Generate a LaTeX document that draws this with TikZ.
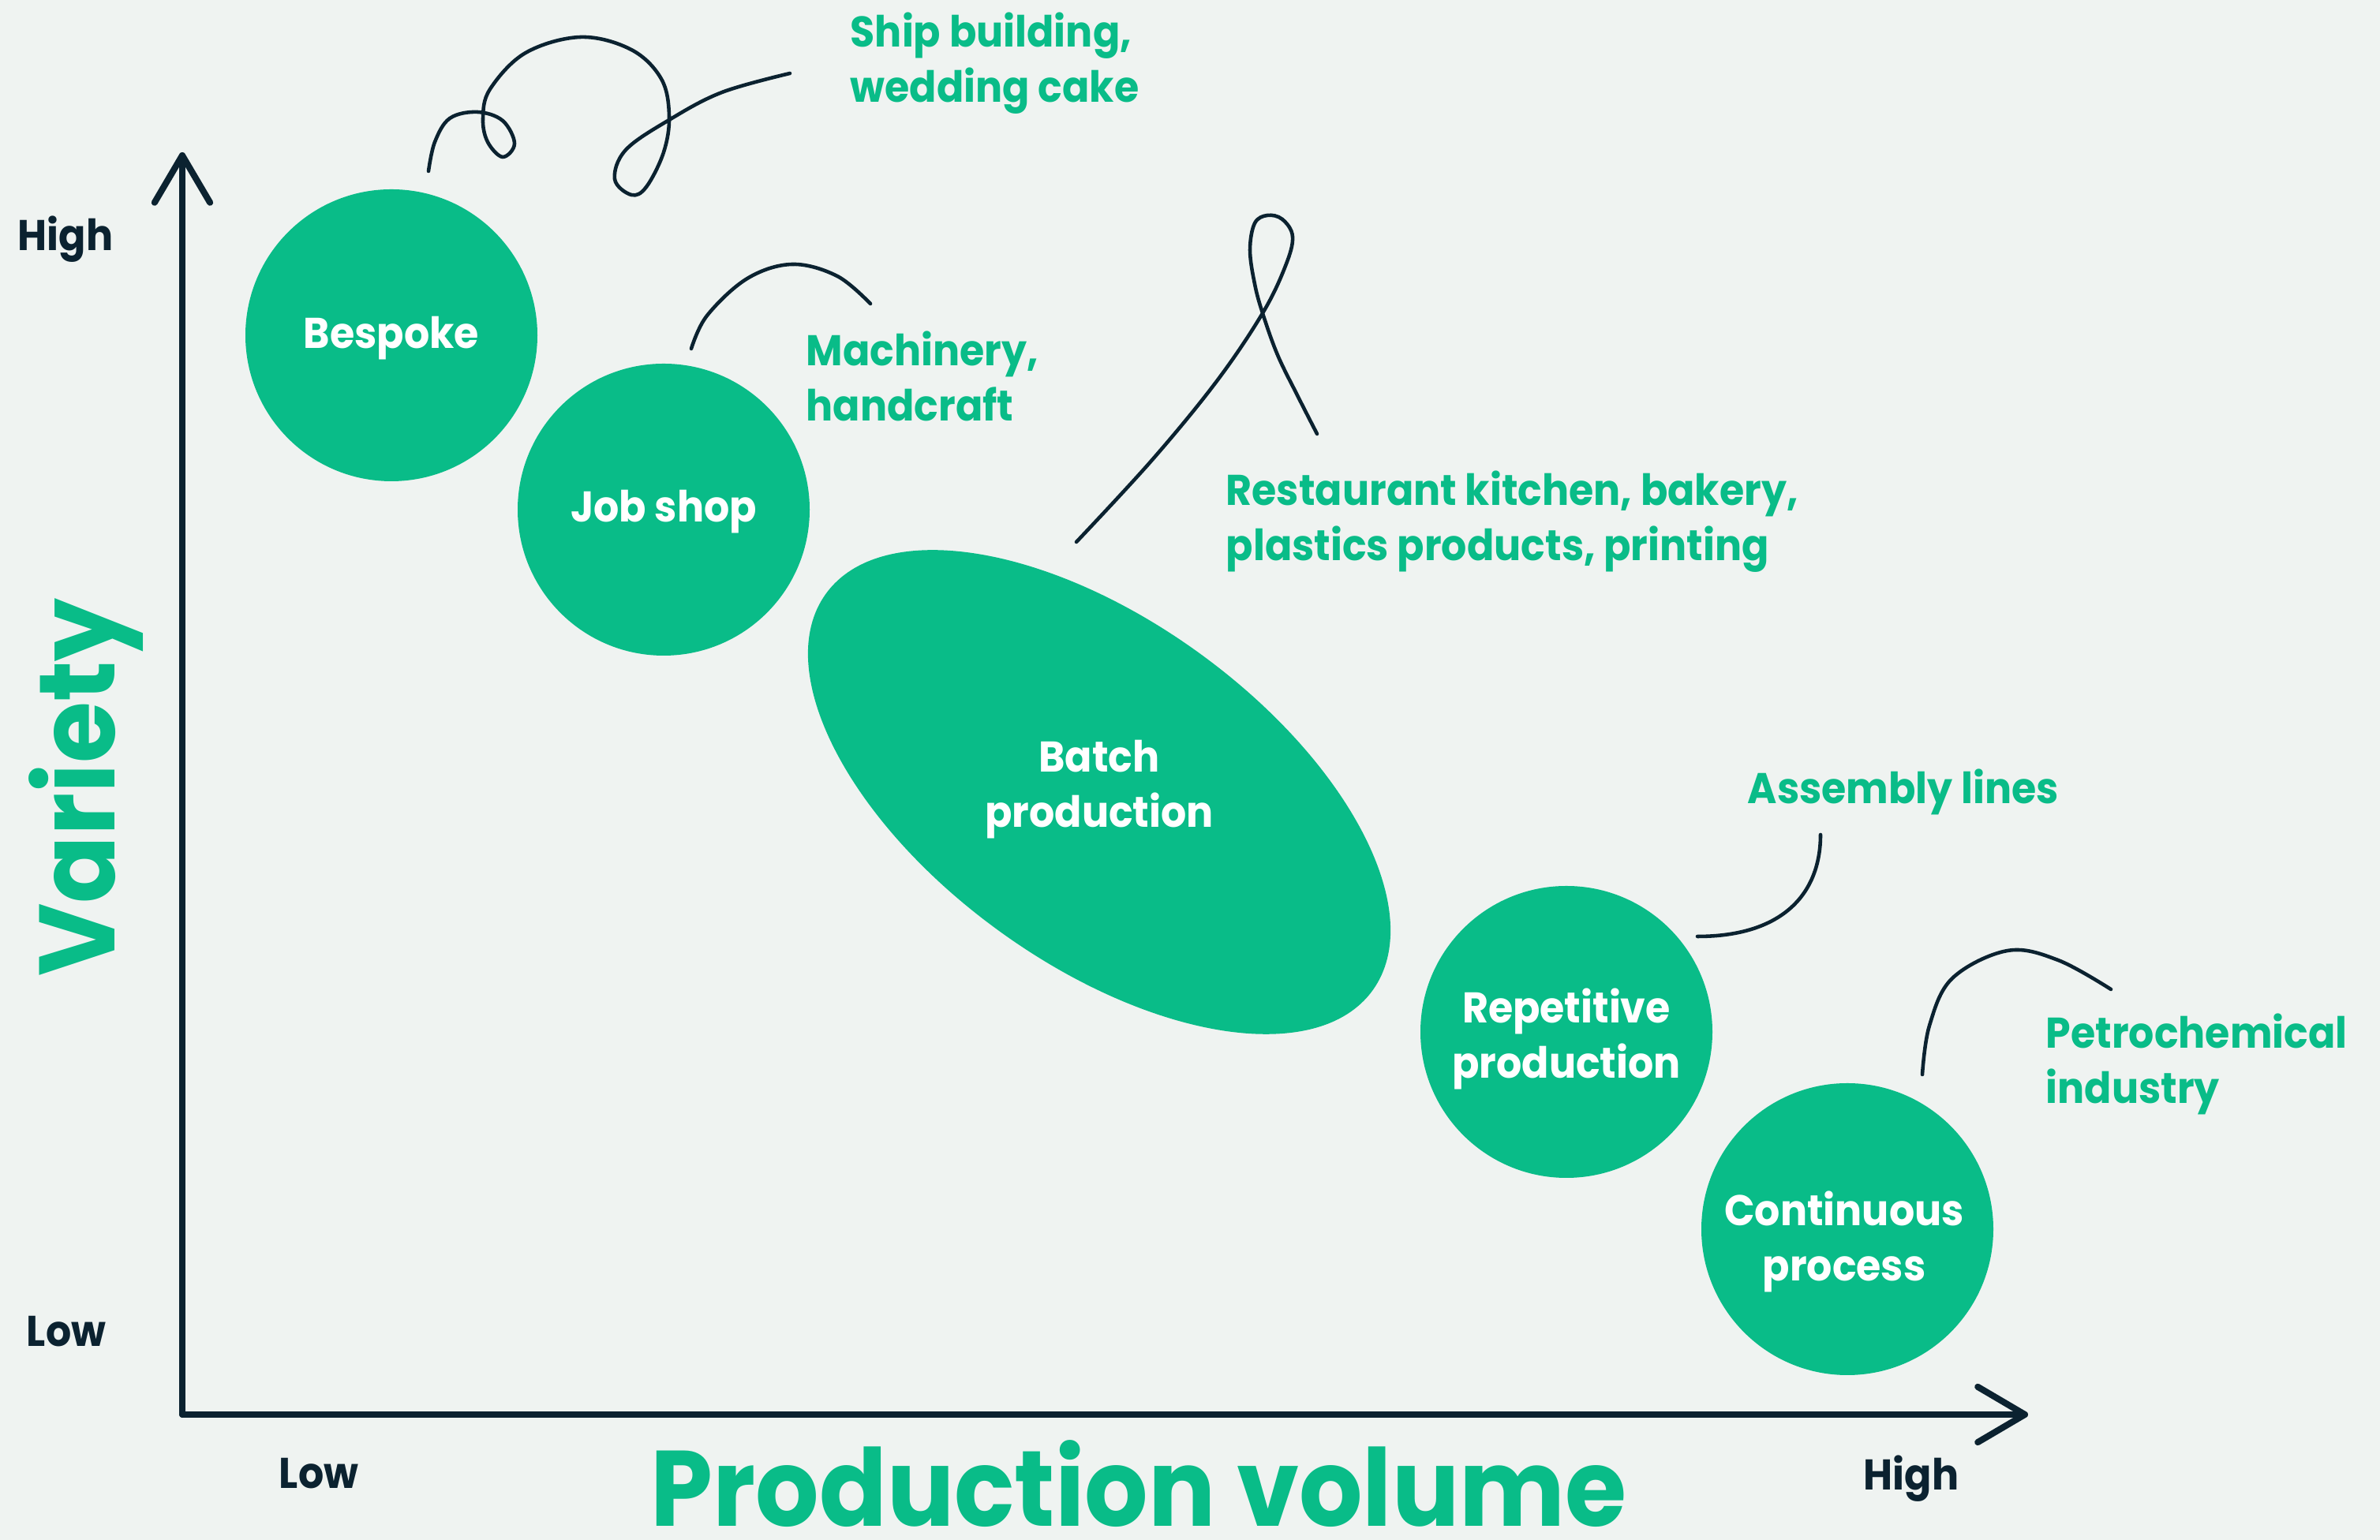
\documentclass[tikz,border=0pt]{standalone}
\usepackage{fontspec}
\setmainfont{Poppins}[FakeStretch=0.93]
\usepackage{tikz}
\usetikzlibrary{shapes.geometric,arrows.meta,positioning}
\definecolor{jade}{RGB}{9,188,136}
\definecolor{gunmetal}{RGB}{11,34,48}
\definecolor{mistgrey}{RGB}{239,243,241}

\begin{document}
\begin{tikzpicture}[
    blob/.style={fill=jade, circle, minimum size=3.7cm, inner sep=0pt},
    inside/.style={text=white, align=center, inner sep=0pt, font=\bfseries\fontsize{15.5}{19.9}\selectfont},
    tag/.style={text=jade, align=left, inner sep=0pt, anchor=west, font=\bfseries\fontsize{15.5}{19.9}\selectfont},
    tick/.style={text=gunmetal, inner sep=0pt, anchor=base, font=\bfseries\fontsize{15.5}{19.9}\selectfont},
    title/.style={text=jade, inner sep=0pt, anchor=base, font=\bfseries\fontsize{38.7}{40}\selectfont},
    squiggle/.style={gunmetal, line width=1.3pt, line cap=round},
    axis/.style={gunmetal, line width=2.3pt, line cap=round, line join=round, -{Straight Barb[length=17pt,width=20pt,round]}}
  ]
  \useasboundingbox (0,0) rectangle (30.16,19.52);
  \fill[mistgrey] (0,0) rectangle (30.16,19.52);

  % axes
  \coordinate (o) at (2.31,1.59);
  \coordinate (ytop) at (2.31,17.59);
  \coordinate (xend) at (25.70,1.59);
  \draw[axis] (o) -- (ytop);
  \draw[axis] (o) -- (xend);

  \node[tick] (yhigh) at (0.83,16.34) {High};
  \node[tick] (ylow) at (0.84,2.45) {Low};
  \node[tick] (xlow) at (4.04,0.65) {Low};
  \node[tick] (xhigh) at (24.22,0.63) {High};
  \node[title] (xname) at (14.43,0.17) {Production volume};
  \node[title, rotate=90] (yname) at (1.45,9.54) {Variety};

  % process types
  \node[blob] (c1) at (4.96,15.27) {};
  \node[blob] (c2) at (8.41,13.06) {};
  \node[fill=jade, ellipse, minimum width=8.56cm, minimum height=4.34cm, inner sep=0pt, rotate=-36] (c3) at (13.93,9.48) {};
  \node[blob] (c4) at (19.85,6.44) {};
  \node[blob] (c5) at (23.41,3.94) {};

  \node[inside] (t1) at ([yshift=-0.04cm]c1) {Bespoke};
  \node[inside] (t2) at ([yshift=-0.03cm]c2) {Job shop};
  \node[inside] (t3) at ([yshift=0.03cm]c3) {Batch\\production};
  \node[inside] (t4) at ([yshift=-0.09cm]c4) {Repetitive\\production};
  \node[inside] (t5) at ([xshift=-0.04cm, yshift=-0.16cm]c5) {Continuous\\process};

  % examples
  \node[tag] (l1) at (10.77,18.72) {Ship building,\\wedding cake};
  \node[tag] (l2) at (10.21,14.75) {Machinery,\\handcraft};
  \node[tag] (l3) at (15.53,12.91) {Restaurant kitchen, bakery,\\plastics products, printing};
  \node[tag, anchor=base west] (l4) at (22.14,9.33) {Assembly lines};
  \node[tag] (l5) at (25.92,6.03) {Petrochemical\\industry};

  % squiggles
  \coordinate (s1) at (5.43,17.35);
  \coordinate (e1) at (10.01,18.59);
  \draw[squiggle] plot[smooth, tension=0.6] coordinates {(s1) (5.51,17.72) (5.70,18.02) (6.05,18.10) (6.37,17.99) (6.52,17.70) (6.37,17.53) (6.18,17.72) (6.12,18.02) (6.21,18.39) (6.66,18.85) (7.36,19.05) (8.00,18.89) (8.38,18.52) (8.48,18.05) (8.41,17.59) (8.19,17.15) (8.00,17.05) (7.79,17.25) (7.93,17.62) (8.48,18.00) (9.15,18.35) (e1)};

  \coordinate (s2) at (8.76,15.10);
  \coordinate (e2) at (11.03,15.67);
  \draw[squiggle] plot[smooth, tension=0.6] coordinates {(s2) (8.96,15.52) (9.47,15.99) (10.04,16.17) (10.61,16.02) (e2)};

  \coordinate (s3) at (13.64,12.65);
  \coordinate (e3) at (16.69,14.02);
  \draw[squiggle] plot[smooth, tension=0.6] coordinates {(s3) (14.60,13.69) (15.42,14.69) (16.00,15.55) (16.29,16.15) (16.38,16.52) (16.25,16.74) (16.06,16.79) (15.90,16.69) (15.84,16.35) (15.90,15.92) (16.00,15.55) (16.19,15.02) (16.45,14.49) (e3)};

  \coordinate (s4) at (21.51,7.65);
  \coordinate (e4) at (23.07,8.94);
  \draw[squiggle] (s4) .. controls (22.6,7.65) and (23.07,8.2) .. (e4);

  \coordinate (s5) at (24.36,5.90);
  \coordinate (e5) at (26.75,6.98);
  \draw[squiggle] plot[smooth, tension=0.6] coordinates {(s5) (24.45,6.52) (24.74,7.12) (25.44,7.47) (26.08,7.35) (e5)};
\end{tikzpicture}
\end{document}
